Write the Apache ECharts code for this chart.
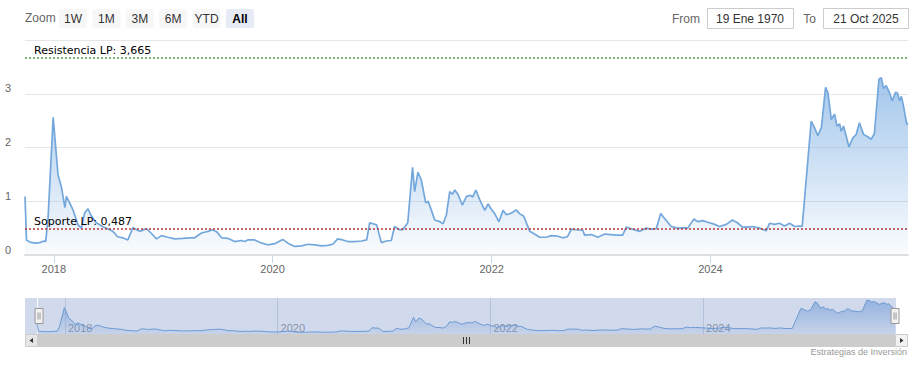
<!DOCTYPE html>
<html><head><meta charset="utf-8">
<script src="https://cdn.jsdelivr.net/npm/echarts@6/dist/echarts.min.js"></script>
<style>html,body{margin:0;padding:0;background:#fff}#c{width:920px;height:365px}</style>
</head><body><div id="c"></div>
<script>
const dates = [
'2017-09-27','2017-10-02','2017-10-13','2017-10-30','2017-11-15','2017-11-29','2017-12-05','2017-12-13','2017-12-30',
'2018-01-15','2018-01-27','2018-02-07','2018-02-12','2018-02-23','2018-03-06','2018-03-23','2018-04-03','2018-04-14','2018-04-25',
'2018-05-07','2018-05-23','2018-06-13','2018-06-30','2018-07-17','2018-08-02','2018-08-19','2018-09-05','2018-09-22','2018-10-04',
'2018-10-15','2018-11-06','2018-11-23','2018-12-10','2018-12-26','2019-01-16','2019-02-09','2019-03-07','2019-03-31','2019-04-16',
'2019-05-09','2019-05-30','2019-06-15','2019-06-29','2019-07-15','2019-08-04','2019-08-28','2019-09-19','2019-09-30','2019-10-10',
'2019-11-02','2019-11-26','2019-12-16','2020-01-08','2020-02-04','2020-02-21','2020-03-15','2020-04-07','2020-04-27','2020-05-21',
'2020-06-13','2020-07-03','2020-07-20','2020-08-05','2020-08-22','2020-09-08','2020-10-01','2020-10-24','2020-11-10','2020-11-20',
'2020-12-13','2020-12-29','2021-01-15','2021-01-31','2021-02-11','2021-02-28','2021-03-10','2021-03-27','2021-04-12','2021-04-19',
'2021-04-30','2021-05-11','2021-05-26','2021-06-03','2021-06-14','2021-06-25','2021-07-12','2021-07-23','2021-08-03','2021-08-14',
'2021-08-23','2021-08-31','2021-09-11','2021-09-25','2021-10-09','2021-10-22','2021-10-30','2021-11-09','2021-11-22','2021-12-09',
'2021-12-20','2021-12-31','2022-01-11','2022-01-25','2022-02-08','2022-02-19','2022-03-08','2022-03-24','2022-04-04','2022-04-18',
'2022-05-08','2022-05-24','2022-06-10','2022-07-02','2022-07-19','2022-08-09','2022-08-26','2022-09-11','2022-09-24','2022-10-08',
'2022-11-01','2022-11-07','2022-11-30','2022-12-21','2023-01-13','2023-02-02','2023-02-21','2023-03-14','2023-03-26','2023-04-16',
'2023-05-10','2023-06-01','2023-06-18','2023-07-04','2023-07-19','2023-08-01','2023-08-23','2023-09-13','2023-10-07','2023-10-17',
'2023-11-07','2023-11-19','2023-12-06','2023-12-23','2024-01-15','2024-01-31','2024-02-23','2024-03-14','2024-03-31','2024-04-17',
'2024-05-04','2024-05-20','2024-06-13','2024-07-05','2024-07-16','2024-08-02','2024-08-18','2024-09-04','2024-09-21','2024-10-08',
'2024-10-24','2024-11-02','2024-12-02','2024-12-13','2024-12-24','2025-01-05','2025-01-19','2025-01-27','2025-02-07','2025-02-18',
'2025-02-26','2025-03-07','2025-03-12','2025-03-20','2025-04-07','2025-04-20','2025-05-01','2025-05-12','2025-05-26','2025-06-09',
'2025-06-20','2025-07-01','2025-07-16','2025-07-24','2025-07-31','2025-08-09','2025-08-20','2025-08-29','2025-09-10','2025-09-16',
'2025-09-23','2025-09-29','2025-10-06','2025-10-17','2025-10-21'
];
const values = [
1.09,0.28,0.24,0.22,0.23,0.26,0.25,0.69,2.56,
1.50,1.25,0.88,1.09,0.97,0.84,0.56,0.50,0.78,0.86,
0.72,0.60,0.53,0.49,0.44,0.34,0.32,0.28,0.51,0.47,
0.44,0.49,0.40,0.30,0.36,0.33,0.30,0.31,0.32,0.32,
0.41,0.44,0.47,0.43,0.32,0.31,0.25,0.27,0.25,0.28,
0.28,0.22,0.19,0.21,0.29,0.22,0.16,0.17,0.20,0.19,
0.17,0.18,0.20,0.30,0.28,0.25,0.25,0.26,0.28,0.60,
0.56,0.23,0.26,0.27,0.53,0.47,0.47,0.60,1.63,1.18,
1.54,1.40,0.97,1.00,0.83,0.65,0.62,0.58,0.75,1.18,
1.13,1.21,1.12,0.93,1.09,1.11,1.08,1.21,1.03,0.83,
0.95,0.85,0.77,0.62,0.83,0.75,0.78,0.84,0.77,0.72,
0.44,0.39,0.33,0.33,0.36,0.35,0.32,0.34,0.48,0.47,
0.46,0.37,0.38,0.33,0.39,0.38,0.37,0.37,0.52,0.48,
0.44,0.50,0.48,0.49,0.77,0.68,0.53,0.50,0.51,0.50,
0.67,0.62,0.64,0.61,0.57,0.53,0.57,0.65,0.60,0.52,
0.52,0.53,0.50,0.45,0.59,0.57,0.59,0.54,0.59,0.53,
0.54,0.53,2.49,2.37,2.22,2.37,3.12,3.02,2.52,2.62,
2.40,2.44,2.30,2.40,2.01,2.18,2.24,2.46,2.24,2.20,
2.15,2.26,3.27,3.30,3.10,3.15,3.02,2.87,3.03,3.01,
2.87,2.95,2.77,2.43,2.45
];
const yearTicks = ['2018-01-01','2020-01-01','2022-01-01','2024-01-01'];
const resistance = 3.665;
const support = 0.487;
const resistanceName = 'Resistencia LP';
const supportName = 'Soporte LP';
const zoomButtons = ['1W','1M','3M','6M','YTD','All'];
const selectedButton = 'All';
const fromText = '19 Ene 1970';
const toText = '21 Oct 2025';
const creditText = 'Estrategias de Inversión';

const FONT = 'Arial, "Liberation Sans", sans-serif';
const WIDE = '"DejaVu Sans", Verdana, sans-serif';
const data = dates.map((d, i) => [d, values[i]]);
const tickTs = yearTicks.map(d => +new Date(d + 'T00:00:00'));
const xMin = +new Date(dates[0] + 'T00:00:00');
const xMax = +new Date(dates[dates.length - 1] + 'T00:00:00');
const fmt = v => String(v).replace('.', ',');

const chart = echarts.init(document.getElementById('c'), null, {renderer: 'svg'});

const graphics = [];
graphics.push({type:'text', left:25, top:12, style:{text:'Zoom', fill:'#666', font:'12px ' + FONT}});
zoomButtons.forEach((b, i) => {
  const x = 59 + i * 33.4;
  const sel = b === selectedButton;
  graphics.push({type:'rect', shape:{x:x, y:9, width:28, height:19, r:2}, style:{fill: sel ? '#e6ebf5' : '#f7f7f7'}});
  graphics.push({type:'text', x:x + 14, y:18.5, style:{text:b, fill: sel ? '#000' : '#333', font:(sel ? 'bold ' : '') + '12px ' + FONT, align:'center', verticalAlign:'middle'}});
});
graphics.push({type:'text', x:700, y:18.5, style:{text:'From', fill:'#666', font:'12px ' + FONT, align:'right', verticalAlign:'middle'}});
graphics.push({type:'rect', shape:{x:707.5, y:8.5, width:86, height:20}, style:{fill:'#fff', stroke:'#cccccc', lineWidth:1}});
graphics.push({type:'text', x:750, y:18.5, style:{text:fromText, fill:'#333', font:'12px ' + FONT, align:'center', verticalAlign:'middle'}});
graphics.push({type:'text', x:816, y:18.5, style:{text:'To', fill:'#666', font:'12px ' + FONT, align:'right', verticalAlign:'middle'}});
graphics.push({type:'rect', shape:{x:823.5, y:8.5, width:85, height:20}, style:{fill:'#fff', stroke:'#cccccc', lineWidth:1}});
graphics.push({type:'text', x:866, y:18.5, style:{text:toText, fill:'#333', font:'12px ' + FONT, align:'center', verticalAlign:'middle'}});
// navigator left strip shading
graphics.push({type:'rect', z:-1, shape:{x:25, y:298, width:12, height:36}, style:{fill:'rgba(102,133,194,0.3)'}});
// scrollbar
graphics.push({type:'rect', shape:{x:25, y:334, width:883, height:13}, style:{fill:'#f2f2f2'}});
graphics.push({type:'rect', shape:{x:37, y:334, width:858, height:13}, style:{fill:'#cccccc'}});
graphics.push({type:'rect', shape:{x:25.5, y:334.5, width:12, height:12}, style:{fill:'#e6e6e6', stroke:'#cccccc'}});
graphics.push({type:'rect', shape:{x:895.5, y:334.5, width:12, height:12}, style:{fill:'#f2f2f2', stroke:'#cccccc'}});
graphics.push({type:'polygon', shape:{points:[[33,338],[33,343],[29.5,340.5]]}, style:{fill:'#333'}});
graphics.push({type:'polygon', shape:{points:[[900,338],[900,343],[903.5,340.5]]}, style:{fill:'#333'}});
[463, 466, 469].forEach(x => graphics.push({type:'line', shape:{x1:x+0.5, y1:337, x2:x+0.5, y2:344}, style:{stroke:'#333', lineWidth:1}}));
graphics.push({type:'text', right:13, top:347, style:{text:creditText, fill:'#999', font:'9px ' + FONT}});

const gradient = (a, b) => new echarts.graphic.LinearGradient(0, 0, 0, 1, [
  {offset:0, color:a}, {offset:1, color:b}
]);

chart.setOption({
  animation: false,
  textStyle: {fontFamily: FONT},
  grid: [
    {left:25, right:12, top:40, bottom:110},
    {left:37, right:25, top:300, height:34}
  ],
  xAxis: [
    {type:'time', gridIndex:0, min:xMin, max:xMax,
     axisLine:{show:true, lineStyle:{color:'#e0e0e0', width:2}},
     axisTick:{show:true, customValues:tickTs, length:8, lineStyle:{color:'#ccd6eb'}},
     axisLabel:{customValues:tickTs, formatter:'{yyyy}', color:'#666', fontSize:11, margin:8, hideOverlap:false},
     splitLine:{show:false}},
    {type:'time', gridIndex:1, min:xMin, max:xMax,
     axisLine:{show:false},
     axisTick:{show:true, inside:true, customValues:tickTs, length:36, lineStyle:{color:'#d8dce8'}},
     axisLabel:{customValues:tickTs, inside:true, formatter:'{yyyy}', color:'#999', fontSize:11, align:'left', verticalAlign:'bottom', margin:1, padding:[0,0,0,3]},
     splitLine:{show:false}}
  ],
  yAxis: [
    {type:'value', gridIndex:0, min:0, max:4, interval:1,
     axisLine:{show:false}, axisTick:{show:false},
     axisLabel:{showMaxLabel:false, color:'#666', fontSize:11, align:'left', verticalAlign:'bottom', margin:20},
     splitLine:{lineStyle:{color:'#e6e6e6', width:1}}},
    {type:'value', gridIndex:1, min:0, max:'dataMax', show:false}
  ],
  dataZoom: [{
    type:'slider', xAxisIndex:0, start:0, end:100,
    left:37, right:25, top:298, height:36,
    backgroundColor:'rgba(0,0,0,0)', borderColor:'rgba(0,0,0,0)',
    fillerColor:'rgba(102,133,194,0.3)',
    showDataShadow:false, showDetail:false, brushSelect:false, moveHandleSize:0,
    handleIcon:'path://M0,0 h8 v15 h-8 z M3,4 v7 M5,4 v7',
    handleSize:15,
    handleStyle:{color:'#f2f2f2', borderColor:'#999999', borderWidth:1},
    emphasis:{handleStyle:{color:'#f2f2f2', borderColor:'#999999'}}
  }],
  series: [
    {type:'line', xAxisIndex:0, yAxisIndex:0, data:data, showSymbol:false, symbol:'none',
     lineStyle:{color:'#74a8dc', width:1.7},
     areaStyle:{color:gradient('rgba(118,170,226,0.95)', 'rgba(118,170,226,0.05)')},
     markLine:{
       silent:true, symbol:'none',
       data:[
         {yAxis:resistance, lineStyle:{color:'#4e9a3c', type:[2,2], width:1.5},
          label:{formatter: resistanceName + ': ' + fmt(resistance)}},
         {yAxis:support, lineStyle:{color:'#b03a3a', type:[2,2], width:1.5},
          label:{formatter: supportName + ': ' + fmt(support)}}
       ],
       label:{position:'insideStartTop', color:'#000', fontSize:11, fontFamily:WIDE, distance:[9,2]}
     }},
    {type:'line', xAxisIndex:1, yAxisIndex:1, data:data, showSymbol:false, symbol:'none', silent:true,
     lineStyle:{color:'#6fa3d8', width:1},
     areaStyle:{color:gradient('rgba(110,160,220,0.85)', 'rgba(110,160,220,0.15)')}}
  ],
  graphic: graphics
});
</script>
</body></html>
